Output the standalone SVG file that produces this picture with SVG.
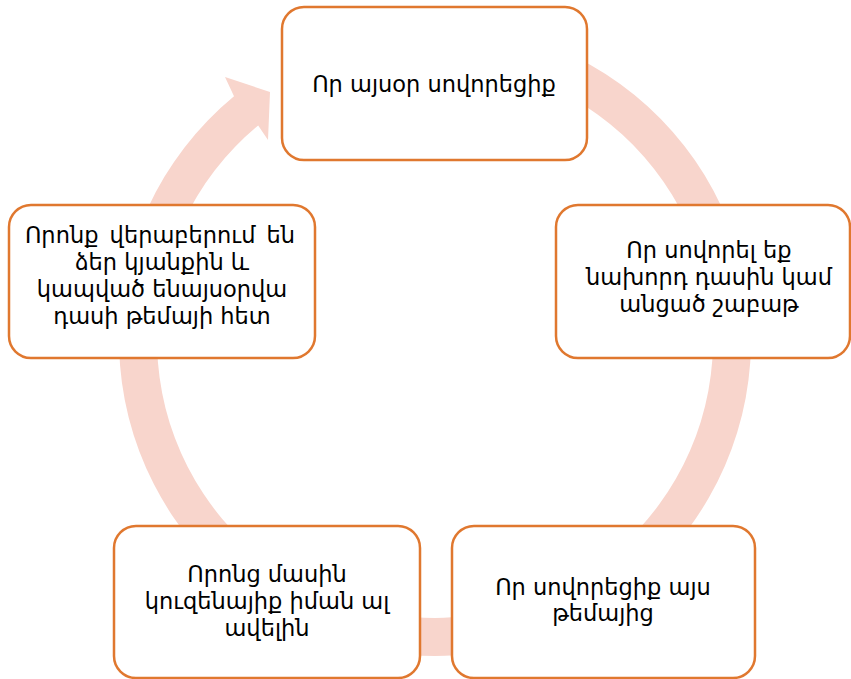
<svg xmlns="http://www.w3.org/2000/svg" width="851" height="679" viewBox="0 0 851 679">
<style>
.box{fill:#fff;stroke:#E0782F;stroke-width:2.5}
.t{font-family:"DejaVu Sans","Noto Sans",sans-serif;font-size:22.5px;fill:#000;text-anchor:middle;white-space:pre}
</style>
<rect width="851" height="679" fill="#fff"/>
<g id="connectors">
<path d="M489.87,28.8 A316,316 0 1 1 234,96.2 L225,77 L270,92 L268,140 L258.2,125.5 A278,278 0 1 0 483.27,66.22 Z" fill="#F8D5CC"/>
</g>
<g id="n1">
<rect class="box" x="282" y="7" width="305" height="153" rx="22"/>
<text class="t" x="434" y="92">Որ այսօր սովորեցիք</text>
</g>
<g id="n2">
<rect class="box" x="556" y="205" width="294" height="153" rx="22"/>
<text class="t" x="709" y="258">Որ սովորել եք</text>
<text class="t" x="709" y="285">նախորդ դասին կամ</text>
<text class="t" x="709" y="312">անցած շաբաթ</text>
</g>
<g id="n3">
<rect class="box" x="9" y="205" width="306" height="153" rx="22"/>
<text class="t" x="160" y="243" word-spacing="4">Որոնք վերաբերում են</text>
<text class="t" x="162" y="270">ձեր կյանքին և</text>
<text class="t" x="162" y="297">կապված ենայսօրվա</text>
<text class="t" x="162" y="324">դասի թեմայի հետ</text>
</g>
<g id="n4">
<rect class="box" x="114" y="526" width="306" height="152" rx="22"/>
<text class="t" x="267" y="582">Որոնց մասին</text>
<text class="t" x="267" y="609">կուզենայիք իման ալ</text>
<text class="t" x="267" y="636">ավելին</text>
</g>
<g id="n5">
<rect class="box" x="452" y="526" width="303" height="152" rx="22"/>
<text class="t" x="603" y="595">Որ սովորեցիք այս</text>
<text class="t" x="603" y="621">թեմայից</text>
</g>
</svg>
